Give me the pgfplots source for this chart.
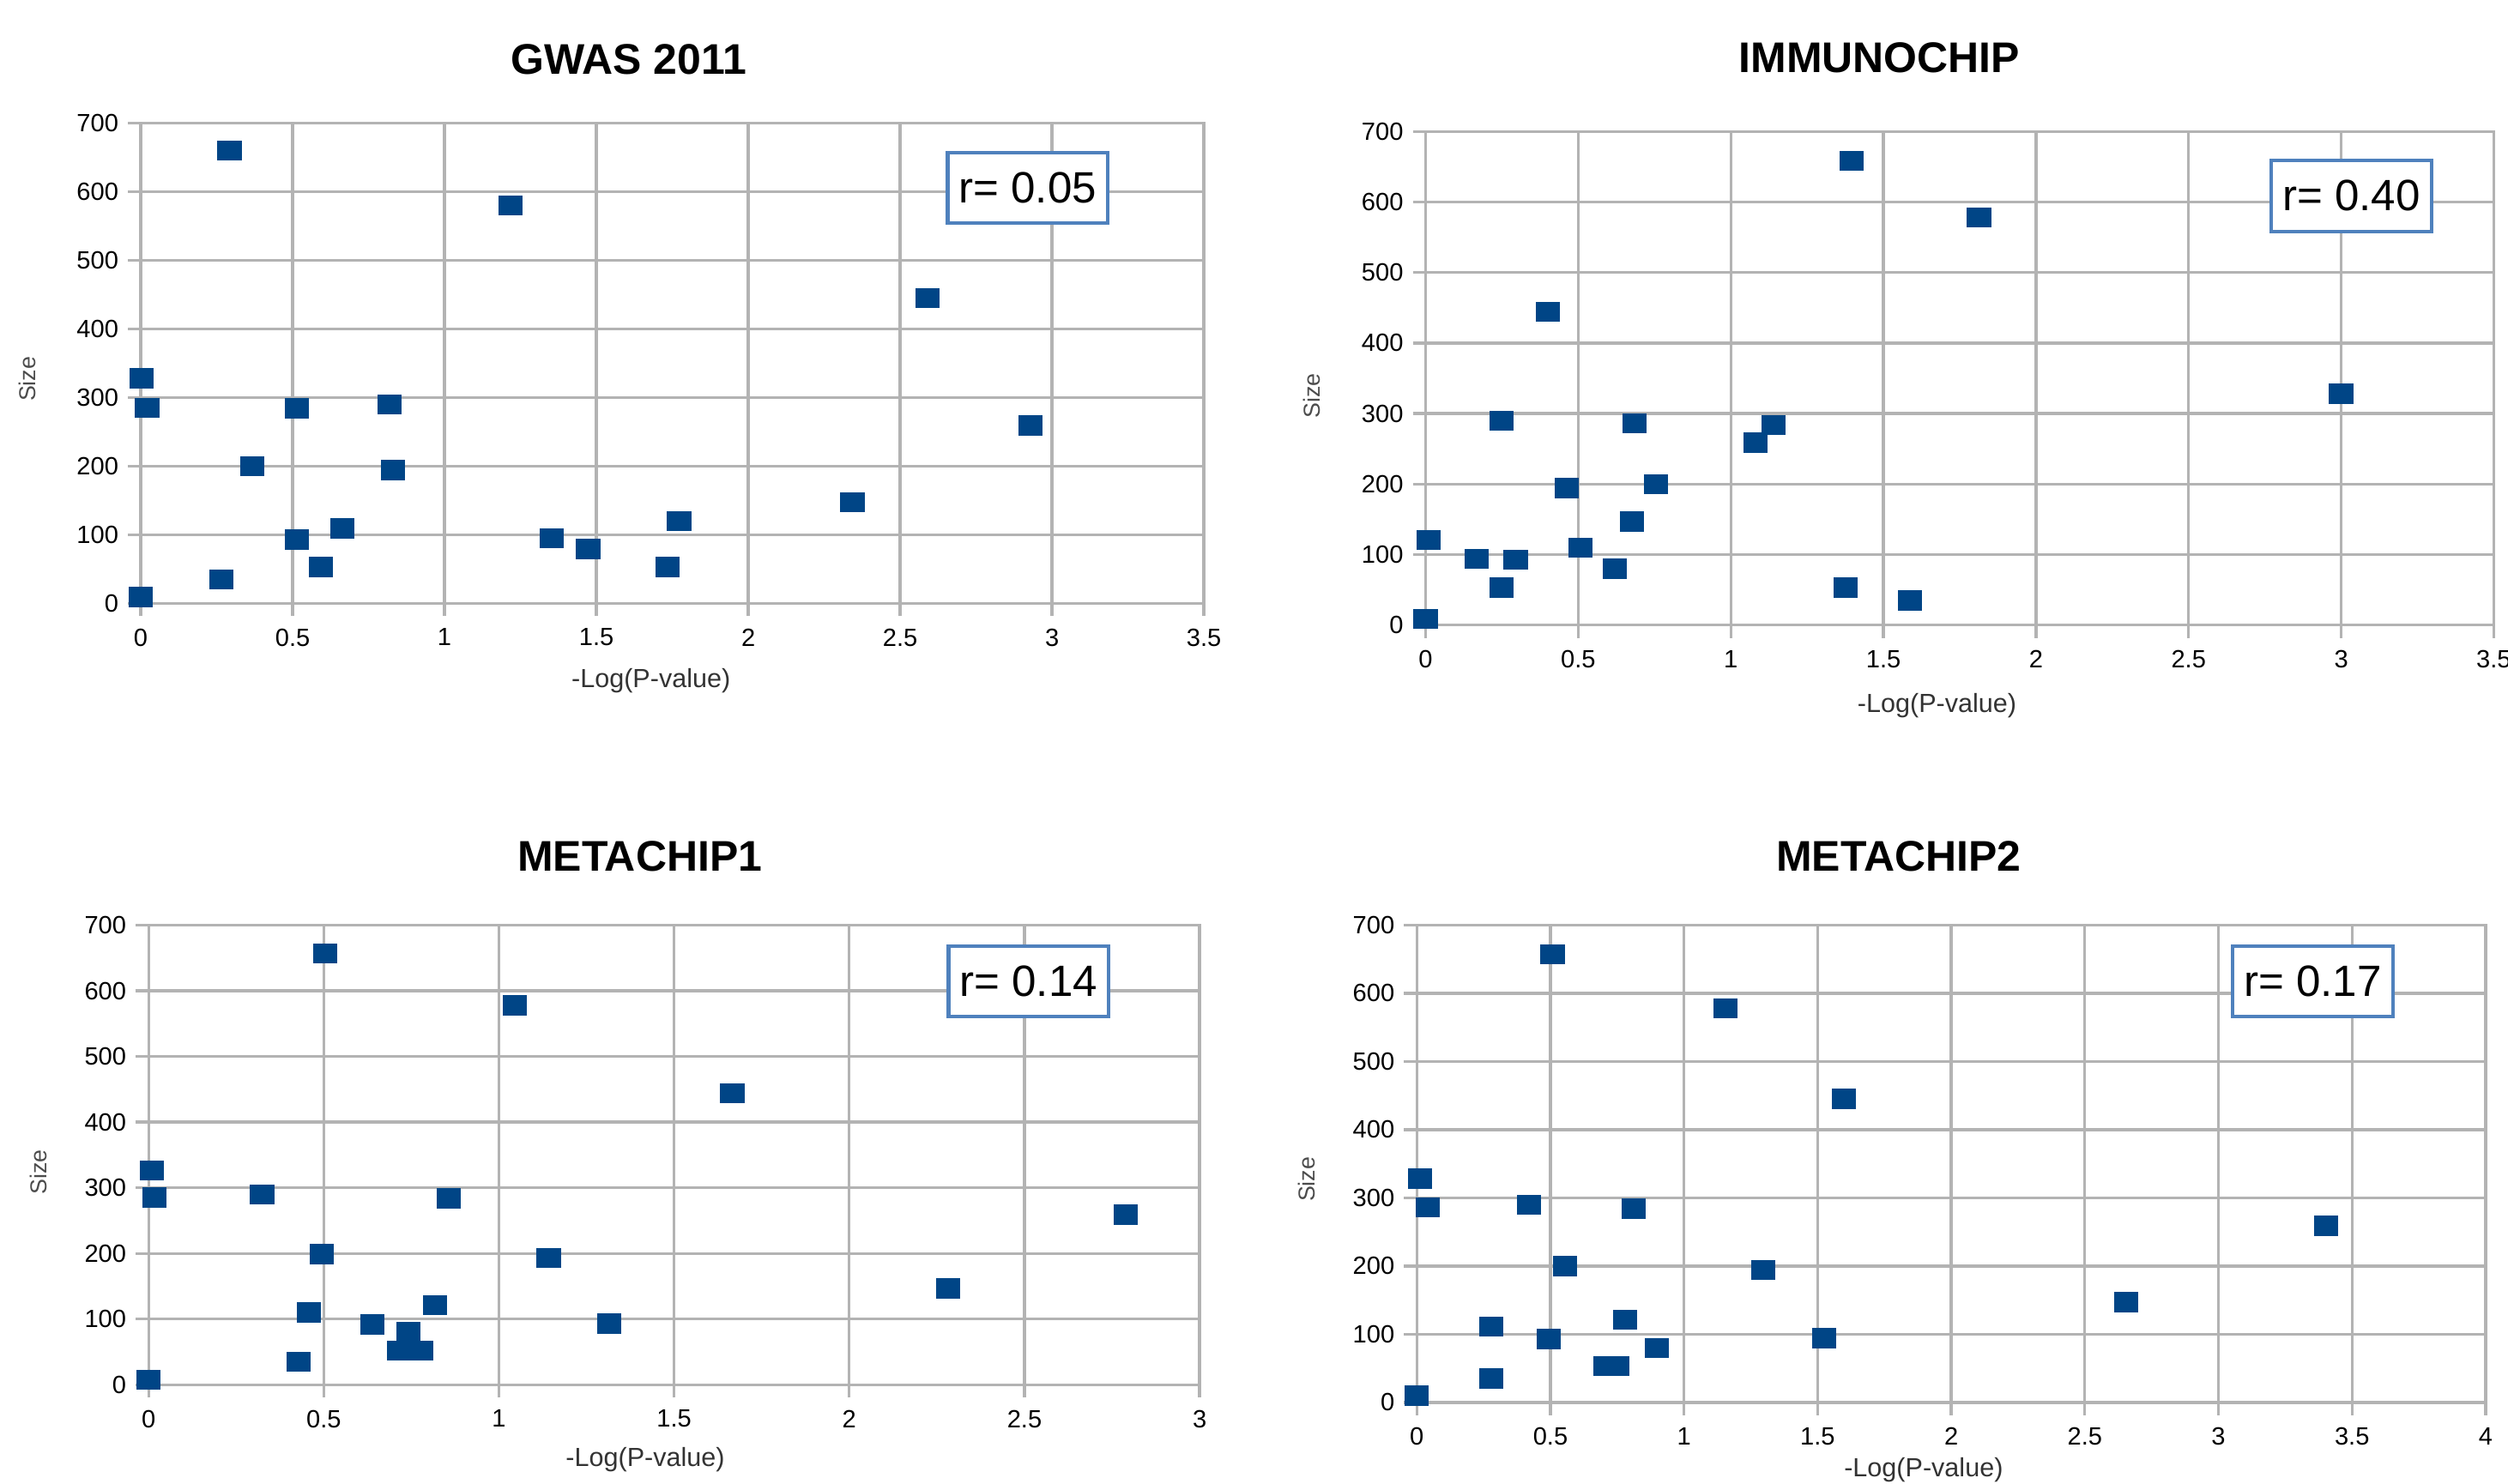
\documentclass[border=0pt]{standalone}
\usepackage{fontspec}
\setmainfont{Liberation Sans}
\usepackage{pgfplots}
\pgfplotsset{compat=1.18}
\definecolor{mk}{HTML}{004586}
\definecolor{grd}{HTML}{B3B3B3}
\definecolor{bx}{RGB}{79,129,189}
\pgfplotsset{panel/.style={
  scale only axis, anchor=south west,
  ymin=0, ymax=700, ytick={0,100,...,700},
  xmin=0,
  grid=major, major grid style={grd, line width=0.9pt},
  axis line style={grd, line width=0.9pt},
  every tick/.style={grd, line width=0.9pt},
  tick align=outside, major tick length=4pt,
  xtick pos=left, ytick pos=left,
  ticklabel style={font=\fontsize{7.8}{9}\selectfont, text=black},
  /pgf/number format/assume math mode=true,
  xticklabel style={anchor=north, inner sep=0pt},
  yticklabel style={anchor=east, inner sep=0pt},
  xticklabel shift=3.7pt, yticklabel shift=2.8pt,
},
pts/.style={only marks, mark=square*, color=mk,
  mark options={fill=mk, draw=none, xscale=1.12, yscale=0.92},
  mark size=3.2pt}}
\begin{document}
\begin{tikzpicture}
\useasboundingbox (0,0) rectangle (784pt,464pt);
% GWAS 2011
\begin{axis}[panel, at={(44pt,275.35pt)}, width=332.35pt, height=150.2pt,
  xmax=3.5, xtick={0,0.5,...,3.5}]
\addplot[pts] coordinates {(0.292,660)(1.217,580)(2.59,445)(0.003,328)(0.021,285)(0.515,284)(0.82,290)(2.93,259)(0.368,200)(0.831,194)(2.343,147)(1.772,120)(0.663,109)(0.515,93)(1.352,95)(1.473,79)(0.594,53)(1.735,53)(0.266,35)(0,9)};
\end{axis}
% IMMUNOCHIP
\begin{axis}[panel, at={(445.65pt,268.55pt)}, width=333.9pt, height=154.35pt,
  xmax=3.5, xtick={0,0.5,...,3.5}]
\addplot[pts] coordinates {(1.396,658)(1.813,578)(0.401,444)(3.0,328)(0.248,290)(0.685,286)(1.14,284)(1.081,259)(0.463,194)(0.755,200)(0.675,147)(0.01,121)(0.507,110)(0.168,94)(0.295,93)(0.62,80)(0.248,53)(1.376,53)(1.588,35)(0,9)};
\end{axis}
% METACHIP1
\begin{axis}[panel, at={(46.45pt,31pt)}, width=328.55pt, height=143.75pt,
  xmax=3, xtick={0,0.5,...,3}]
\addplot[pts] coordinates {(0.504,657)(1.046,578)(1.666,444)(0.009,326)(0.016,285)(0.324,290)(0.857,284)(2.79,259)(0.495,199)(1.142,193)(2.282,147)(0.818,121)(0.458,110)(0.638,92)(1.315,93)(0.741,81)(0.716,52)(0.777,52)(0.429,35)(0,8)};
\end{axis}
% METACHIP2
\begin{axis}[panel, at={(442.9pt,25.5pt)}, width=334.1pt, height=149.25pt,
  xmax=4, xtick={0,0.5,...,4}]
\addplot[pts] coordinates {(0.508,657)(1.155,578)(1.598,445)(0.012,328)(0.041,286)(0.42,290)(0.812,284)(3.403,259)(0.555,200)(1.297,194)(2.656,147)(0.78,121)(0.278,111)(0.493,93)(1.524,94)(0.898,80)(0.706,53)(0.75,53)(0.278,35)(0,10)};
\end{axis}
% titles
\begin{scope}[every node/.style={font=\fontsize{13.4}{15}\bfseries, anchor=base, inner sep=0pt}]
\node at (196.5pt,440.75pt) {GWAS 2011};
\node at (587.5pt,441.2pt) {IMMUNOCHIP};
\node at (200pt,191.75pt) {METACHIP1};
\node at (593.5pt,191.75pt) {METACHIP2};
\end{scope}
% x labels
\begin{scope}[every node/.style={font=\fontsize{8.2}{10}\selectfont, text=black!80, anchor=base, inner sep=0pt}]
\node at (203.5pt,249pt) {-Log(P-value)};
\node at (605.5pt,241.25pt) {-Log(P-value)};
\node at (201.7pt,5.5pt) {-Log(P-value)};
\node at (601.3pt,2.3pt) {-Log(P-value)};
\end{scope}
% y labels
\begin{scope}[every node/.style={font=\fontsize{7.2}{9}\selectfont, text=black!70, rotate=90, inner sep=0pt}]
\node at (8.5pt,345.5pt) {Size};
\node at (410pt,340.25pt) {Size};
\node at (12pt,97.5pt) {Size};
\node at (408.5pt,95.25pt) {Size};
\end{scope}
% r boxes
\begin{scope}[every node/.style={font=\fontsize{13.7}{15}\selectfont, draw=bx, line width=1.1pt, fill=white, minimum width=50pt, minimum height=22.2pt, inner sep=0pt}]
\node at (321.25pt,405.25pt) {r= 0.05};
\node at (735pt,402.75pt) {r= 0.40};
\node at (321.5pt,157.15pt) {r= 0.14};
\node at (723pt,157.15pt) {r= 0.17};
\end{scope}
\end{tikzpicture}
\end{document}
